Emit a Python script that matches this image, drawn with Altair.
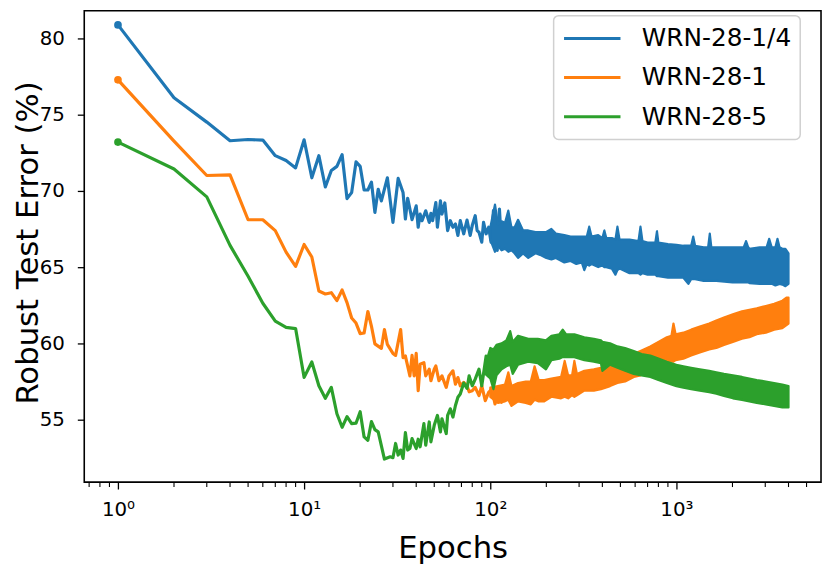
import altair as alt
import pandas as pd

# ---------------- data ----------------
names = ["WRN-28-1/4", "WRN-28-1", "WRN-28-5"]
colors = ["#1f77b4", "#ff7f0e", "#2ca02c"]

# early epochs: individual vertices of each curve
blue_ep = [1, 2, 3, 4, 5, 6, 7, 8, 9, 10, 11, 12, 13, 14, 15, 16, 17, 18, 19, 20,
           21, 22, 23, 24, 25, 26, 28, 30, 32, 34, 35, 36, 38, 40, 41, 42, 43, 45, 47, 48,
           49, 51, 52, 54, 55, 57, 59, 61, 63, 65, 67, 69, 72, 75, 78, 80, 83, 85, 87, 90,
           92, 95, 98, 101, 104, 109, 112, 115]
blue_val = [80.87, 76.1, 74.5, 73.28, 73.36, 73.32, 72.3, 71.98, 71.5, 73.34,
            70.85, 72.3, 70.25, 71.33, 71.6, 72.37, 69.49, 69.88, 71.89, 71.6,
            70.05, 70.05, 70.57, 68.58, 70.1, 69.34, 70.85, 67.93, 70.81, 69.88,
            68.15, 69.51, 68.11, 69.01, 67.61, 68.47, 68.04, 68.69, 67.93, 68.52,
            68.04, 69.23, 67.61, 69.34, 68.47, 69.2, 67.39, 68.04, 67.61, 67.82,
            67.07, 68.04, 67.18, 68.08, 67.07, 67.72, 68.37, 67.39, 67.28, 66.63,
            67.93, 67.18, 67.61, 66.63, 68.7, 66.09, 68.8, 66.31]

orange_ep = [1, 2, 3, 4, 5, 6, 7, 8, 9, 10, 11, 12, 13, 14, 15, 16, 17, 18, 19, 20,
             21, 22, 23, 24, 26, 27, 28, 30, 31, 33, 34, 35, 37, 38, 39, 40, 41, 42, 44, 45,
             47, 48, 50, 51, 53, 55, 58, 60, 63, 65, 67, 69, 72, 75, 77, 80, 83, 87, 90, 94,
             98, 102, 106, 111, 115, 120]
orange_val = [77.27, 73.25, 71.0, 71.04, 68.1, 68.1, 67.39, 65.98, 65.05, 66.48,
              65.66, 63.43, 63.24, 63.32, 62.8, 63.5, 62.67, 61.66, 61.33, 60.64,
              60.68, 62.09, 61.12, 59.97, 59.67, 60.9, 59.93, 59.34, 59.21, 60.9,
              59.06, 59.17, 57.87, 59.21, 57.87, 59.34, 56.9, 58.63, 58.74, 57.87,
              58.31, 57.55, 58.31, 58.52, 57.55, 57.87, 57.12, 57.87, 58.2, 57.33,
              57.76, 57.22, 57.44, 57.22, 56.83, 56.9, 57.12, 56.58, 57.22, 56.25,
              56.79, 57.01, 56.03, 56.68, 56.14, 56.8]

green_ep = [1, 2, 3, 4, 5, 6, 7, 8, 9, 10, 11, 12, 13, 14, 15, 16, 17, 18, 19, 20,
            21, 22, 23, 24, 25, 27, 29, 30, 31, 32, 33, 34, 35, 36, 37, 38, 40, 41, 42, 44,
            45, 47, 48, 50, 52, 54, 55, 58, 59, 61, 63, 65, 67, 69, 72, 75, 77, 80, 83, 87,
            90, 95, 98, 102, 106, 111, 115, 120]
green_val = [73.19, 71.43, 69.6, 66.42, 64.4, 62.63, 61.46, 61.05, 60.97, 57.77,
             58.78, 57.22, 56.4, 57.12, 55.39, 54.5, 55.2, 54.74, 54.77, 55.52,
             53.87, 53.65, 54.87, 54.35, 54.2, 52.42, 52.57, 52.51, 53.44, 52.68,
             53.01, 52.46, 54.15, 53.01, 53.11, 53.76, 53.11, 53.72, 53.22, 54.74,
             53.33, 54.85, 53.55, 54.63, 55.28, 54.2, 55.06, 54.09, 55.28, 55.71,
             55.17, 55.93, 56.47, 56.68, 57.4, 57.05, 57.87, 57.22, 57.66, 58.31,
             57.22, 59.17, 57.87, 59.06, 58.74, 59.17, 59.71, 59.39]

# later epochs: the dense noise band, read as lower / upper edge
blue_band_ep = [100, 106, 110, 115, 120, 125, 130, 135, 141, 150,
                160, 175, 185, 200, 213, 225, 250, 270, 290, 310,
                320, 330, 340, 350, 380, 400, 410, 420, 450, 470,
                482, 495, 560, 625, 641, 657, 700, 770, 786, 800,
                900, 1000, 1090, 1159, 1200, 1231, 1260, 1400, 1480, 1511,
                1540, 1638, 2000, 2300, 2366, 2430, 2466, 2800, 3050, 3150,
                3250, 3400, 3490, 3580, 3706, 3850, 4000]
blue_band_lo = [66.8, 66.0, 66.4, 66.1, 66.2, 66.0, 66.1, 65.9, 65.6, 65.9,
                65.6, 65.9, 65.8, 65.6, 65.5, 65.6, 65.3, 65.4, 65.2, 65.3,
                64.8, 65.2, 65.1, 65.2, 65.0, 65.1, 65.0, 65.0, 64.9, 64.5,
                64.8, 64.9, 64.6, 64.6, 64.5, 64.6, 64.5, 64.5, 64.4, 64.4,
                64.3, 64.3, 64.3, 63.9, 64.2, 64.2, 64.2, 64.1, 64.1, 64.1,
                64.1, 64.1, 64.0, 64.0, 64.0, 64.0, 63.95, 63.9, 63.9, 63.9,
                63.9, 63.8, 63.85, 63.9, 63.85, 63.75, 63.9]
blue_band_hi = [67.6, 69.1, 67.8, 68.0, 67.9, 68.7, 67.6, 67.6, 68.1, 67.4,
                67.4, 67.3, 67.3, 67.3, 67.5, 67.2, 67.1, 67.0, 67.0, 67.0,
                67.0, 67.0, 67.65, 67.0, 67.1, 66.9, 67.4, 66.9, 66.9, 66.8,
                67.65, 66.8, 66.8, 66.7, 67.65, 66.7, 66.6, 66.6, 67.35, 66.6,
                66.5, 66.45, 66.4, 66.4, 66.4, 67.0, 66.4, 66.3, 66.3, 67.2,
                66.3, 66.3, 66.3, 66.3, 66.7, 66.3, 66.2, 66.3, 66.3, 66.85,
                66.3, 66.3, 66.85, 66.3, 66.2, 66.2, 65.9]

orange_band_ep = [100, 110, 120, 125, 130, 141, 155, 165, 173, 182,
                  195, 213, 240, 251, 262, 275, 283, 292, 320, 360,
                  393, 440, 482, 530, 590, 641, 724, 800, 888, 940,
                  964, 990, 1090, 1200, 1336, 1500, 1638, 1800, 2010, 2250,
                  2466, 2700, 3022, 3350, 3706, 3900, 4000]
orange_band_lo = [56.5, 56.1, 56.2, 56.3, 55.9, 56.2, 56.1, 56.0, 56.3, 56.2,
                  56.2, 56.5, 56.4, 56.5, 56.4, 56.6, 56.5, 56.6, 56.9, 56.9,
                  57.0, 57.2, 57.4, 57.5, 57.8, 57.9, 58.3, 58.5, 58.7, 58.8,
                  58.8, 58.9, 59.0, 59.2, 59.4, 59.6, 59.7, 59.9, 60.1, 60.3,
                  60.4, 60.6, 60.7, 60.9, 61.0, 61.2, 61.3]
orange_band_hi = [57.1, 57.2, 57.3, 58.1, 57.2, 57.4, 57.5, 57.5, 58.5, 57.6,
                  57.6, 57.7, 57.8, 58.85, 57.9, 57.9, 58.85, 58.0, 58.2, 58.3,
                  58.4, 58.6, 58.8, 59.0, 59.3, 59.5, 59.8, 60.1, 60.4, 60.5,
                  61.3, 60.6, 60.7, 60.9, 61.1, 61.3, 61.5, 61.7, 61.9, 62.1,
                  62.2, 62.3, 62.45, 62.6, 62.8, 63.0, 63.0]

green_band_ep = [94, 100, 104, 108, 115, 122, 128, 132, 141, 160,
                 180, 199, 213, 235, 245, 255, 283, 320, 360, 393,
                 400, 440, 482, 530, 590, 650, 724, 800, 888, 1000,
                 1090, 1200, 1336, 1500, 1638, 1800, 2010, 2250, 2466, 2700,
                 3022, 3350, 3706, 4000]
green_band_lo = [58.0, 57.7, 57.0, 57.9, 58.3, 58.5, 58.6, 58.0, 58.6, 58.8,
                 58.7, 58.3, 58.9, 59.0, 59.1, 59.1, 59.1, 58.9, 58.8, 58.7,
                 58.2, 58.6, 58.4, 58.2, 58.0, 57.9, 57.8, 57.6, 57.4, 57.2,
                 57.1, 57.0, 56.9, 56.8, 56.7, 56.55, 56.4, 56.3, 56.2, 56.1,
                 56.0, 55.9, 55.8, 55.8]
green_band_hi = [58.6, 59.7, 59.6, 59.9, 60.0, 60.2, 60.8, 60.1, 60.5, 60.3,
                 60.3, 60.2, 60.5, 60.6, 60.9, 60.6, 60.6, 60.4, 60.3, 60.2,
                 60.1, 60.0, 59.8, 59.7, 59.5, 59.3, 59.2, 59.0, 58.8, 58.6,
                 58.5, 58.4, 58.3, 58.2, 58.1, 58.0, 57.9, 57.8, 57.7, 57.6,
                 57.5, 57.4, 57.3, 57.2]

major_ticks = [1, 10, 100, 1000]
minor_ticks = [0.7, 0.8, 0.9, 2, 3, 4, 5, 6, 7, 8, 9, 20, 30, 40, 50, 60, 70, 80, 90,
               200, 300, 400, 500, 600, 700, 800, 900, 2000, 3000, 4000, 5000]
y_ticks = [55, 60, 65, 70, 75, 80]

# ---------------- chart ----------------
W, H = 744, 476
FONT = "DejaVu Sans"

x_scale = alt.Scale(type="log", domain=[0.659, 5980], nice=False)
y_scale = alt.Scale(domain=[50.91, 81.80], nice=False, zero=False)
color_scale = alt.Scale(domain=names, range=colors)

x_axis = alt.Axis(
    values=major_ticks, title="Epochs", grid=False, domain=False,
    labelExpr="'10' + ['\u2070', '\u00b9', '\u00b2', '\u00b3'][round(log(datum.value) / LN10)]",
    labelFontSize=20, labelFont=FONT, labelColor="black", labelPadding=11,
    tickSize=7, tickWidth=1.3, tickColor="black",
    titleFontSize=31, titleFont=FONT, titleFontWeight="normal", titleColor="black",
    titleX=W / 2, titleY=76, titleBaseline="alphabetic", titleAlign="center",
)
y_axis = alt.Axis(
    values=y_ticks, title="Robust Test Error (%)", grid=False, domain=False,
    labelFontSize=20, labelFont=FONT, labelColor="black", labelPadding=13,
    tickSize=7, tickWidth=1.3, tickColor="black",
    titleFontSize=31, titleFont=FONT, titleFontWeight="normal", titleColor="black",
    titleX=-47, titleY=234, titleAngle=270, titleBaseline="alphabetic", titleAlign="center",
)

series = [
    (names[0], colors[0], blue_ep, blue_val, blue_band_ep, blue_band_lo, blue_band_hi),
    (names[1], colors[1], orange_ep, orange_val, orange_band_ep, orange_band_lo, orange_band_hi),
    (names[2], colors[2], green_ep, green_val, green_band_ep, green_band_lo, green_band_hi),
]

layers = []
markers = []
for name, col, ep, val, bep, blo, bhi in series:
    df_line = pd.DataFrame({"epoch": ep, "value": val, "series": name})
    df_band = pd.DataFrame({"epoch": bep, "lo": blo, "hi": bhi})
    line = alt.Chart(df_line).mark_line(strokeWidth=3.2, strokeJoin="round", strokeCap="round").encode(
        x=alt.X("epoch:Q", scale=x_scale, axis=x_axis),
        y=alt.Y("value:Q", scale=y_scale, axis=y_axis),
        color=alt.Color("series:N", scale=color_scale, legend=alt.Legend(title=None)),
    )
    band = alt.Chart(df_band).mark_area(
        color=col, opacity=1, stroke=col, strokeWidth=2.2, strokeJoin="round"
    ).encode(
        x=alt.X("epoch:Q", scale=x_scale, axis=x_axis),
        y=alt.Y("lo:Q", scale=y_scale, axis=y_axis),
        y2="hi:Q",
    )
    first = alt.Chart(df_line.iloc[:1]).mark_point(
        filled=True, size=60, opacity=1, color=col
    ).encode(
        x=alt.X("epoch:Q", scale=x_scale, axis=x_axis),
        y=alt.Y("value:Q", scale=y_scale, axis=y_axis),
    )
    layers += [line, band]
    markers.append(first)

minor = alt.Chart(pd.DataFrame({"tick": minor_ticks})).mark_rule(
    color="black", strokeWidth=1.1
).encode(
    x=alt.X("tick:Q", scale=x_scale, axis=x_axis),
    y=alt.value(H),
    y2=alt.value(H + 5),
)

chart = (
    alt.layer(*layers, *markers, minor)
    .properties(
        width=W, height=H,
        autosize=alt.AutoSizeParams(type="none"),
        padding={"left": 77, "top": 0, "right": 2, "bottom": 82},
    )
    .configure(font=FONT)
    .configure_view(stroke="black", strokeWidth=1.6)
    .configure_legend(
        orient="none", legendX=474, legendY=5,
        symbolType="stroke", symbolSize=3249, symbolStrokeWidth=3,
        labelFontSize=25, labelFont=FONT, labelColor="black", labelLimit=400,
        labelOffset=20, clipHeight=28, rowPadding=11.5, padding=9,
        fillColor="white", strokeColor="#d0d0d0", strokeWidth=1.5, cornerRadius=5,
    )
)

chart.save("out.html", embed_options={"renderer": "svg", "actions": False})
